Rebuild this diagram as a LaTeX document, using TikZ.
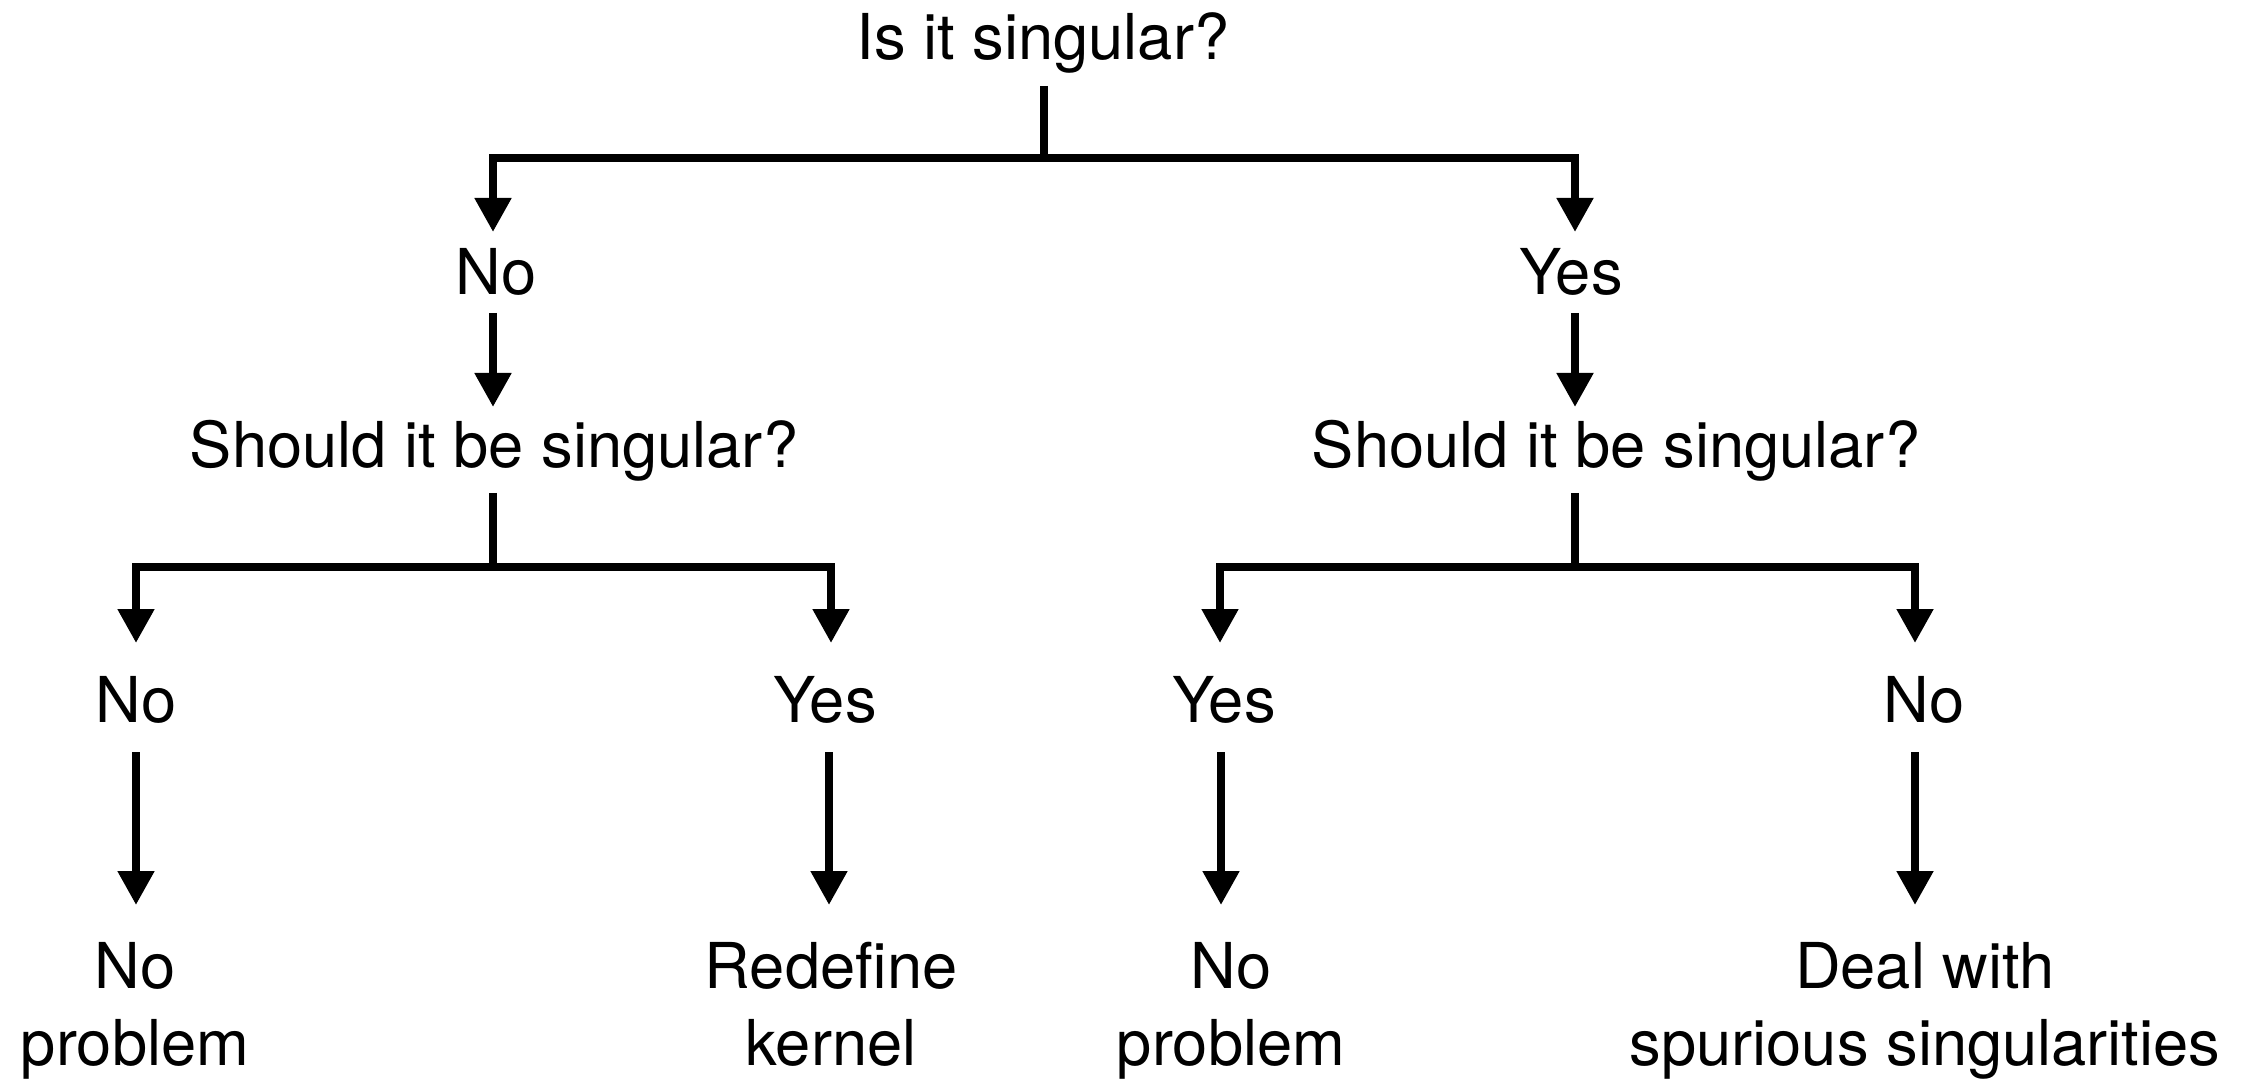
\documentclass[tikz,border=0pt]{standalone}
\usepackage{fontspec}
\setmainfont{TeX Gyre Heros}
\usetikzlibrary{arrows.meta}
\begin{document}
\begin{tikzpicture}[
  lab/.style={font=\fontsize{18pt}{21.9pt}\selectfont, inner sep=0pt, anchor=base},
  twolab/.style={font=\fontsize{18pt}{21.9pt}\selectfont, inner sep=0pt, anchor=base, align=center},
  conn/.style={line width=0.08cm, black},
  arr/.style={conn, -{Triangle[length=0.34cm,width=0.35cm]}}
]
\useasboundingbox (0,0) rectangle (22.49,-10.80);
% texts
\node[lab] (top) at (10.43,-0.60) {Is it singular?};
\node[lab] (no1) at (4.96,-2.95) {No};
\node[lab] (yes1) at (15.71,-2.95) {Yes};
\node[lab] (shL) at (4.94,-4.67) {Should it be singular?};
\node[lab] (shR) at (16.16,-4.67) {Should it be singular?};
\node[lab] (noLL) at (1.36,-7.22) {No};
\node[lab] (yesLR) at (8.25,-7.22) {Yes};
\node[lab] (yesRL) at (12.24,-7.22) {Yes};
\node[lab] (noRR) at (19.24,-7.22) {No};
\node[twolab] (r1) at (1.35,-10.65) {No\\problem};
\node[twolab] (r2) at (8.31,-10.65) {Redefine\\kernel};
\node[twolab] (r3) at (12.31,-10.65) {No\\problem};
\node[twolab] (r4) at (19.25,-10.65) {Deal with\\spurious singularities};
% connector points
\coordinate (s0) at (10.44,-0.86);
\coordinate (j0) at (10.44,-1.58);
\coordinate (tL1) at (4.93,-2.32);
\coordinate (tR1) at (15.75,-2.32);
\coordinate (bL1) at (4.93,-3.13);
\coordinate (bR1) at (15.75,-3.13);
\coordinate (tL2) at (4.93,-4.07);
\coordinate (tR2) at (15.75,-4.07);
\coordinate (sL) at (4.93,-4.93);
\coordinate (jL) at (4.93,-5.67);
\coordinate (sR) at (15.75,-4.93);
\coordinate (jR) at (15.75,-5.67);
\coordinate (t3a) at (1.36,-6.43);
\coordinate (t3b) at (8.31,-6.43);
\coordinate (t3c) at (12.20,-6.43);
\coordinate (t3d) at (19.15,-6.43);
\coordinate (b4a) at (1.36,-7.52);
\coordinate (b4b) at (8.29,-7.52);
\coordinate (b4c) at (12.21,-7.52);
\coordinate (b4d) at (19.15,-7.52);
\coordinate (t4a) at (1.36,-9.05);
\coordinate (t4b) at (8.29,-9.05);
\coordinate (t4c) at (12.21,-9.05);
\coordinate (t4d) at (19.15,-9.05);
% connectors
\draw[conn] (s0) -- (j0);
\draw[arr] (j0) -| (tL1);
\draw[arr] (j0) -| (tR1);
\draw[arr] (bL1) -- (tL2);
\draw[arr] (bR1) -- (tR2);
\draw[conn] (sL) -- (jL);
\draw[conn] (sR) -- (jR);
\draw[arr] (jL) -| (t3a);
\draw[arr] (jL) -| (t3b);
\draw[arr] (jR) -| (t3c);
\draw[arr] (jR) -| (t3d);
\draw[arr] (b4a) -- (t4a);
\draw[arr] (b4b) -- (t4b);
\draw[arr] (b4c) -- (t4c);
\draw[arr] (b4d) -- (t4d);
\end{tikzpicture}
\end{document}
